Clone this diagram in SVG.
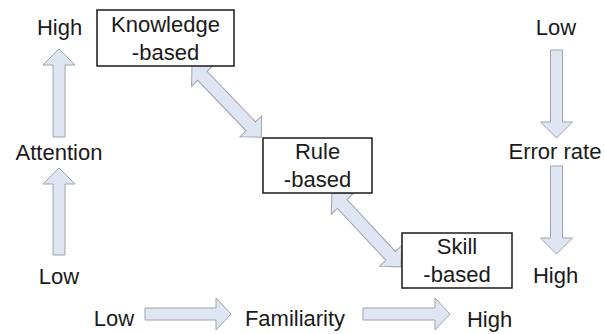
<svg xmlns="http://www.w3.org/2000/svg" width="605" height="334" viewBox="0 0 605 334">
  <style>
    .arr { fill: #dde6f2; stroke: #9ea4ab; stroke-width: 1; stroke-linejoin: miter; }
    .box { fill: #ffffff; stroke: #1a1a1a; stroke-width: 1.5; }
    .lbl { font-family: "Liberation Sans", Arial, sans-serif; font-size: 22px; fill: #1a1a1a; text-anchor: middle; }
  </style>
  <rect width="605" height="334" fill="#ffffff"/>

  <!-- block arrows -->
  <g id="connectors">
    <!-- attention axis -->
    <polygon class="arr" points="59,49 75,65 65,65 65,137 53,137 53,65 43,65"/>
    <polygon class="arr" points="59,168 75,184 65,184 65,255 53,255 53,184 43,184"/>
    <!-- error rate axis -->
    <polygon class="arr" points="550.5,50 562.5,50 562.5,122 572.5,122 556.5,138 540.5,122 550.5,122"/>
    <polygon class="arr" points="550.5,166 562.5,166 562.5,238 572.5,238 556.5,254 540.5,238 550.5,238"/>
    <!-- familiarity axis -->
    <polygon class="arr" points="145,308 216,308 216,298 231,314 216,330 216,320 145,320"/>
    <polygon class="arr" points="363,308 435,308 435,298 450,314 435,330 435,320 363,320"/>
    <!-- level transitions -->
    <polygon class="arr" transform="translate(192,65) rotate(46.2)" points="0,0 15,-15 15,-6.5 85,-6.5 85,-15 100,0 85,15 85,6.5 15,6.5 15,15"/>
    <polygon class="arr" transform="translate(332,193) rotate(47)" points="0,0 15,-15 15,-6.5 86,-6.5 86,-15 101,0 86,15 86,6.5 15,6.5 15,15"/>
  </g>

  <g id="knowledge">
    <rect class="box" x="97" y="10" width="137" height="56"/>
    <text class="lbl" x="165.5" y="32">Knowledge</text>
    <text class="lbl" x="165.5" y="59.5">-based</text>
  </g>
  <g id="rule">
    <rect class="box" x="263" y="138" width="109" height="55"/>
    <text class="lbl" x="317.5" y="158.5">Rule</text>
    <text class="lbl" x="317.5" y="187">-based</text>
  </g>
  <g id="skill">
    <rect class="box" x="402" y="233" width="110" height="55"/>
    <text class="lbl" x="457" y="253.5">Skill</text>
    <text class="lbl" x="457" y="282">-based</text>
  </g>

  <g id="attention-labels">
    <text class="lbl" x="59.5" y="35">High</text>
    <text class="lbl" x="59" y="159.5">Attention</text>
    <text class="lbl" x="59" y="284">Low</text>
  </g>
  <g id="error-labels">
    <text class="lbl" x="556" y="35">Low</text>
    <text class="lbl" x="555" y="158.5">Error rate</text>
    <text class="lbl" x="555.5" y="283">High</text>
  </g>
  <g id="familiarity-labels">
    <text class="lbl" x="114" y="326">Low</text>
    <text class="lbl" x="295" y="326">Familiarity</text>
    <text class="lbl" x="489.5" y="327">High</text>
  </g>
</svg>
